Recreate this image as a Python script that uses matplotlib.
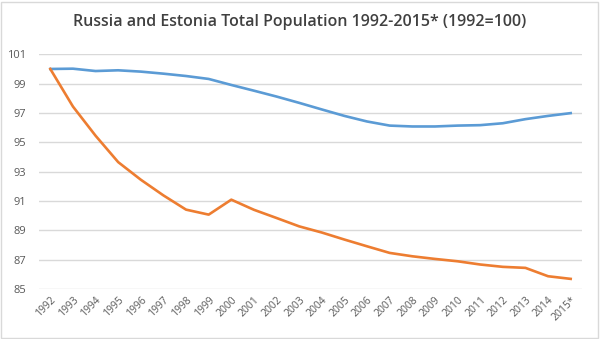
import matplotlib
matplotlib.use("Agg")
import matplotlib.pyplot as plt
from matplotlib.patches import Rectangle

years = ["1992", "1993", "1994", "1995", "1996", "1997", "1998", "1999", "2000",
         "2001", "2002", "2003", "2004", "2005", "2006", "2007", "2008", "2009",
         "2010", "2011", "2012", "2013", "2014", "2015*"]
russia = [100.0, 100.02, 99.86, 99.91, 99.82, 99.68, 99.52, 99.32, 98.91,
          98.52, 98.12, 97.69, 97.24, 96.80, 96.42, 96.14, 96.08, 96.08,
          96.14, 96.17, 96.30, 96.58, 96.80, 96.99]
estonia = [100.0, 97.44, 95.45, 93.65, 92.45, 91.38, 90.41, 90.07, 91.09,
           90.40, 89.84, 89.27, 88.85, 88.37, 87.91, 87.46, 87.23, 87.05,
           86.89, 86.67, 86.51, 86.44, 85.87, 85.69]
yticks = [85, 87, 89, 91, 93, 95, 97, 99, 101]

plt.rcParams['font.family'] = ['Open Sans', 'DejaVu Sans']

fig = plt.figure(figsize=(6.0, 3.39), dpi=100)
ax = fig.add_axes([0.065, 0.1475, 0.905, 0.6923])

x = list(range(len(years)))
ax.plot(x, russia, color="#5B9BD5", lw=1.9, solid_joinstyle="round", zorder=3)
ax.plot(x, estonia, color="#ED7D31", lw=1.9, solid_joinstyle="round", zorder=3)

ax.set_xlim(-0.5, len(years) - 0.5)
ax.set_ylim(85, 101)
ax.set_yticks(yticks)
ax.set_yticklabels([str(v) for v in yticks])
ax.set_xticks(x)
ax.set_xticklabels(years, rotation=45, ha="right", rotation_mode="anchor")
ax.grid(axis="y", color="#D9D9D9", lw=1.0)
ax.set_axisbelow(True)
for s in ax.spines.values():
    s.set_visible(False)
ax.tick_params(axis="both", length=0, colors="#595959", labelsize=7.5)
ax.tick_params(axis="y", pad=9, labelsize=8)
ax.tick_params(axis="x", pad=4)

fig.text(0.5, 0.935, "Russia and Estonia Total Population 1992-2015* (1992=100)",
         ha="center", va="center", fontsize=11.5, color="#404040", fontweight="semibold")

fig.patches.append(Rectangle((0.002, 0.003), 0.994, 0.992, transform=fig.transFigure,
                             fill=False, edgecolor="#D9D9D9", lw=1.0))

fig.savefig("out.png", dpi=100)
